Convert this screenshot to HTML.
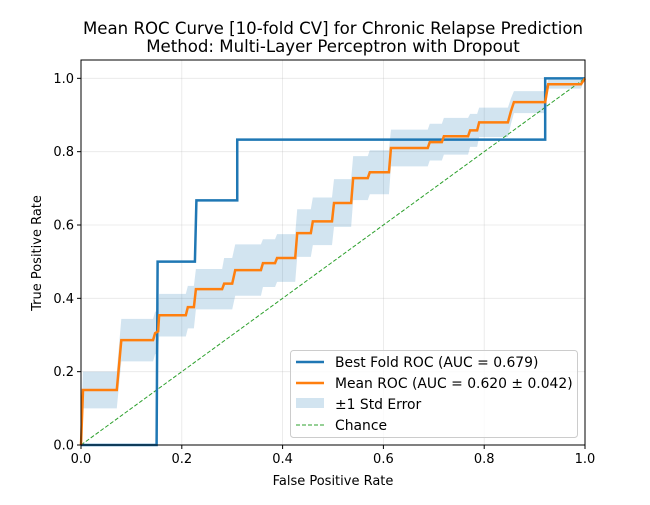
<!DOCTYPE html>
<html><head><meta charset="utf-8"><style>
body{margin:0;background:#fff;font-family:"Liberation Sans","DejaVu Sans",sans-serif}
</style></head><body>
<svg id="chart" width="650" height="500" xmlns="http://www.w3.org/2000/svg" font-family="'DejaVu Sans','Liberation Sans',sans-serif">
<rect width="650" height="500" fill="#fff"/>
<g id="grid"></g><g id="marks"></g><g id="axes"></g>
</svg>
<script>
const meanFpr=[0,0.004,0.071,0.08,0.143,0.147,0.153,0.155,0.208,0.212,0.224,0.228,0.28,0.284,0.30,0.306,0.357,0.361,0.385,0.389,0.425,0.429,0.456,0.46,0.498,0.502,0.536,0.54,0.569,0.573,0.611,0.615,0.688,0.692,0.716,0.72,0.768,0.772,0.786,0.79,0.847,0.853,0.859,0.921,0.927,0.992,1];
const meanTpr=[0,0.15,0.15,0.286,0.286,0.305,0.31,0.354,0.354,0.376,0.376,0.425,0.425,0.44,0.44,0.477,0.477,0.496,0.496,0.51,0.51,0.578,0.578,0.61,0.61,0.66,0.66,0.728,0.728,0.744,0.744,0.81,0.81,0.826,0.826,0.842,0.842,0.858,0.858,0.88,0.88,0.91,0.935,0.935,0.984,0.984,1];
const meanStd=[0.05,0.05,0.05,0.058,0.058,0.058,0.058,0.058,0.058,0.058,0.058,0.055,0.055,0.07,0.07,0.07,0.07,0.065,0.065,0.065,0.065,0.065,0.065,0.065,0.065,0.065,0.065,0.06,0.06,0.06,0.06,0.05,0.05,0.05,0.05,0.05,0.05,0.045,0.045,0.04,0.04,0.035,0.03,0.03,0.012,0.012,0];
const bestFpr=[0,0.15,0.152,0.226,0.229,0.31,0.31,0.921,0.921,1];
const bestTpr=[0,0,0.5,0.5,0.667,0.667,0.833,0.833,1,1];
const xTicks=[0,0.2,0.4,0.6,0.8,1.0];
const yTicks=[0,0.2,0.4,0.6,0.8,1.0];
const L=81,R=585,T=60,B=445;
const sx=v=>L+v*(R-L), sy=v=>B-v/1.05*(B-T);
const NS="http://www.w3.org/2000/svg";
function mk(p,tag,at){const e=document.createElementNS(NS,tag);for(const k in at)e.setAttribute(k,at[k]);p.appendChild(e);return e;}
const grid=document.getElementById('grid'),marks=document.getElementById('marks'),axes=document.getElementById('axes');
xTicks.forEach(t=>{const l=mk(grid,'line',{x1:sx(t),x2:sx(t),y1:T,y2:B,stroke:'#b0b0b0','stroke-opacity':0.3,'stroke-width':0.8});
});
yTicks.forEach(t=>{const l=mk(grid,'line',{x1:L,x2:R,y1:sy(t),y2:sy(t),stroke:'#b0b0b0','stroke-opacity':0.3,'stroke-width':0.8});
});
let up=meanFpr.map((f,i)=>sx(f)+','+sy(Math.min(1,meanTpr[i]+meanStd[i])));
let lo=meanFpr.map((f,i)=>sx(f)+','+sy(Math.max(0,meanTpr[i]-meanStd[i]))).reverse();
const band=mk(marks,'polygon',{points:up.concat(lo).join(' '),fill:'#1f77b4','fill-opacity':0.2});

const ch=mk(marks,'line',{x1:sx(0),y1:sy(0),x2:sx(1),y2:sy(1),stroke:'#2ca02c','stroke-width':1,'stroke-dasharray':'4,2'});

const bl=mk(marks,'polyline',{points:bestFpr.map((f,i)=>sx(f)+','+sy(bestTpr[i])).join(' '),fill:'none',stroke:'#1f77b4','stroke-width':2.5});

const ml=mk(marks,'polyline',{points:meanFpr.map((f,i)=>sx(f)+','+sy(meanTpr[i])).join(' '),fill:'none',stroke:'#ff7f0e','stroke-width':2.5});

const fr=mk(axes,'rect',{x:L,y:T,width:R-L,height:B-T,fill:'none',stroke:'#000','stroke-width':1});

xTicks.forEach(t=>{mk(axes,'line',{x1:sx(t),x2:sx(t),y1:B,y2:B+4,stroke:'#000'});
const tx=mk(axes,'text',{x:sx(t),y:B+18,'text-anchor':'middle','font-size':13});tx.textContent=t.toFixed(1);
});
yTicks.forEach(t=>{mk(axes,'line',{x1:L-4,x2:L,y1:sy(t),y2:sy(t),stroke:'#000'});
const tx=mk(axes,'text',{x:L-7,y:sy(t)+4.5,'text-anchor':'end','font-size':13});tx.textContent=t.toFixed(1);
});
</script>
<svg style="position:absolute;left:0;top:0" width="650" height="500" font-family="'DejaVu Sans','Liberation Sans',sans-serif">
<text x="333" y="34" text-anchor="middle" font-size="16.6">Mean ROC Curve [10-fold CV] for Chronic Relapse Prediction</text>
<text x="333" y="52" text-anchor="middle" font-size="16.6">Method: Multi-Layer Perceptron with Dropout</text>
<text x="333" y="485" text-anchor="middle" font-size="13">False Positive Rate</text>
<text x="41" y="253" text-anchor="middle" font-size="13" transform="rotate(-90 41 253)">True Positive Rate</text>
<g>
<rect x="290.5" y="350.5" width="287" height="87" rx="3" fill="#fff" fill-opacity="0.8" stroke="#ccc"/>
<line x1="296" x2="324" y1="362" y2="362" stroke="#1f77b4" stroke-width="2.5"/>
<text x="335" y="367" font-size="13.9">Best Fold ROC (AUC = 0.679)</text>
<line x1="296" x2="324" y1="383" y2="383" stroke="#ff7f0e" stroke-width="2.5"/>
<text x="335" y="388" font-size="13.9">Mean ROC (AUC = 0.620 ± 0.042)</text>
<rect x="296" y="398" width="28" height="10" fill="#1f77b4" fill-opacity="0.2"/>
<text x="335" y="409" font-size="13.9">±1 Std Error</text>
<line x1="296" x2="324" y1="425" y2="425" stroke="#2ca02c" stroke-width="1" stroke-dasharray="4,2"/>
<text x="335" y="430" font-size="13.9">Chance</text>
</g>
</svg>
</body></html>
